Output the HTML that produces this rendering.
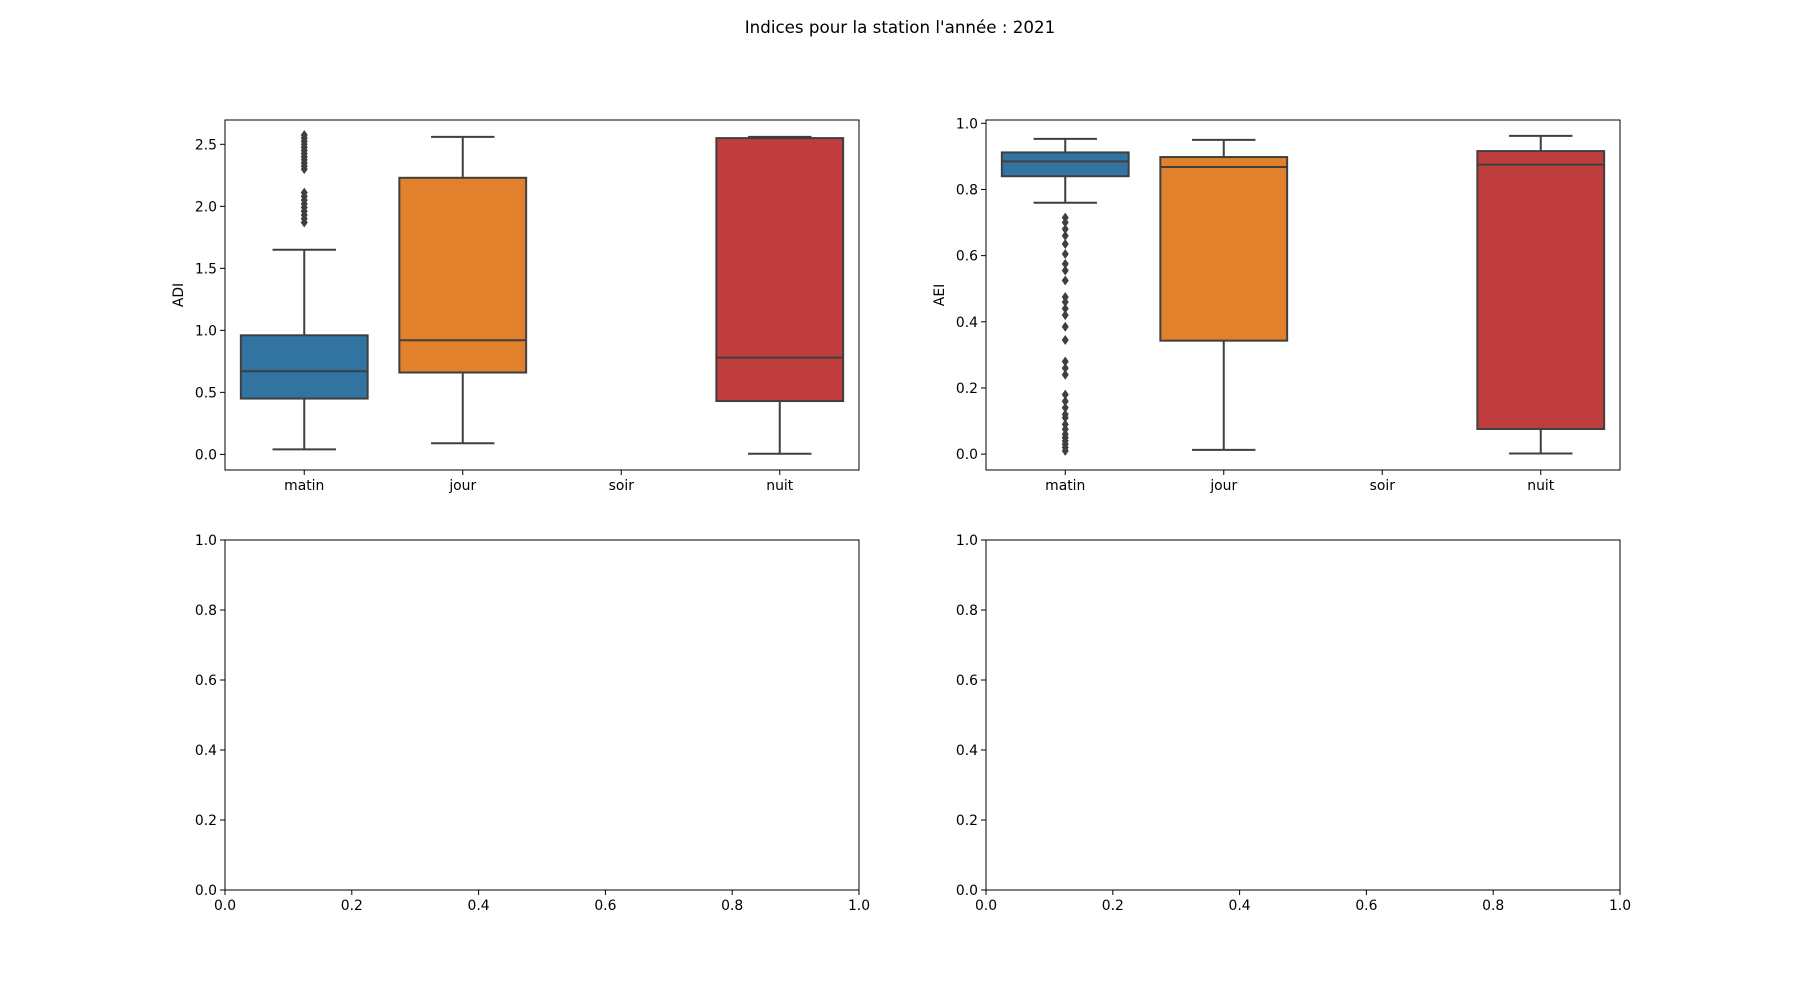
<!DOCTYPE html>
<html><head><meta charset="utf-8"><style>
html,body{margin:0;padding:0;background:#fff;width:1800px;height:1000px;overflow:hidden}
svg text{font-family:"DejaVu Sans","Liberation Sans",sans-serif;fill:#000}
</style></head><body>
<svg id="s" width="1800" height="1000" viewBox="0 0 1800 1000" xmlns="http://www.w3.org/2000/svg">
<text x="900" y="33" font-size="16.7" text-anchor="middle">Indices pour la station l'année : 2021</text>
</svg>
<script>
const S=document.getElementById('s');let h='';
const G='#3f3f3f';
function ax(L,T,W,H){h+=`<rect x="${L}" y="${T}" width="${W}" height="${H}" fill="none" stroke="#000" stroke-width="1"/>`;}
function yt(L,y,lab){h+=`<line x1="${L-5}" x2="${L}" y1="${y}" y2="${y}" stroke="#000"/><text x="${L-8}" y="${y+5}" font-size="13.9" text-anchor="end">${lab}</text>`;}
function xt(x,B,lab){h+=`<line x1="${x}" x2="${x}" y1="${B}" y2="${B+5}" stroke="#000"/><text x="${x}" y="${B+20}" font-size="13.9" text-anchor="middle">${lab}</text>`;}
function boxplot(L,T,W,H,ymin,ymax,ticks,fmt,ylab,data){
  const Y=v=>T+H*(ymax-v)/(ymax-ymin);
  const cw=W/4;
  data.forEach((d,i)=>{if(!d)return;const cx=L+cw*(i+0.5),bw=cw*0.8,col=d.c;
    h+=`<line x1="${cx}" x2="${cx}" y1="${Y(d.w[1])}" y2="${Y(d.b[1])}" stroke="${G}" stroke-width="2"/>`;
    h+=`<line x1="${cx}" x2="${cx}" y1="${Y(d.b[0])}" y2="${Y(d.w[0])}" stroke="${G}" stroke-width="2"/>`;
    h+=`<line x1="${cx-bw/4}" x2="${cx+bw/4}" y1="${Y(d.w[1])}" y2="${Y(d.w[1])}" stroke="${G}" stroke-width="2"/>`;
    h+=`<line x1="${cx-bw/4}" x2="${cx+bw/4}" y1="${Y(d.w[0])}" y2="${Y(d.w[0])}" stroke="${G}" stroke-width="2"/>`;
    h+=`<rect x="${cx-bw/2}" y="${Y(d.b[1])}" width="${bw}" height="${Y(d.b[0])-Y(d.b[1])}" fill="${col}" stroke="${G}" stroke-width="2"/>`;
    h+=`<line x1="${cx-bw/2}" x2="${cx+bw/2}" y1="${Y(d.m)}" y2="${Y(d.m)}" stroke="${G}" stroke-width="2"/>`;
    (d.o||[]).forEach(v=>{const y=Y(v);h+=`<path d="M${cx} ${y-5}L${cx+3.5} ${y}L${cx} ${y+5}L${cx-3.5} ${y}Z" fill="${G}"/>`;});
  });
  ax(L,T,W,H);
  ticks.forEach(t=>yt(L,Y(t),t.toFixed(fmt)));
  ['matin','jour','soir','nuit'].forEach((n,i)=>xt(L+cw*(i+0.5),T+H,n));
  h+=`<text transform="translate(${L-42},${T+H/2}) rotate(-90)" font-size="13.9" text-anchor="middle">${ylab}</text>`;
}
const B='#3274a1',O='#e1812c',R='#c03d3e';
const o1=[];for(let v=1.87;v<=2.11;v+=0.03)o1.push(v);for(let v=2.3;v<=2.575;v+=0.025)o1.push(v);
boxplot(225,120,634,350,-0.126,2.696,[0,0.5,1,1.5,2,2.5],1,'ADI',[
 {c:B,w:[0.04,1.65],b:[0.45,0.96],m:0.67,o:o1},
 {c:O,w:[0.09,2.56],b:[0.66,2.23],m:0.92},null,
 {c:R,w:[0.005,2.56],b:[0.43,2.55],m:0.78}]);
const o2=[0.01,0.02,0.03,0.04,0.05,0.06,0.075,0.09,0.11,0.12,0.14,0.16,0.18,0.24,0.26,0.28,0.345,0.385,0.42,0.44,0.46,0.475,0.525,0.555,0.575,0.605,0.635,0.66,0.68,0.7,0.715];
boxplot(986,120,634,350,-0.048,1.01,[0,0.2,0.4,0.6,0.8,1],1,'AEI',[
 {c:B,w:[0.76,0.953],b:[0.84,0.912],m:0.885,o:o2},
 {c:O,w:[0.013,0.95],b:[0.343,0.898],m:0.868},null,
 {c:R,w:[0.002,0.962],b:[0.076,0.916],m:0.875}]);
[225,986].forEach(L=>{const T=540,W=634,Hh=350;ax(L,T,W,Hh);
 for(let i=0;i<=5;i++){const v=i*0.2;yt(L,T+Hh-Hh*v,v.toFixed(1));xt(L+W*v,T+Hh,v.toFixed(1));}});
S.insertAdjacentHTML('beforeend',h);
</script>
</body></html>
